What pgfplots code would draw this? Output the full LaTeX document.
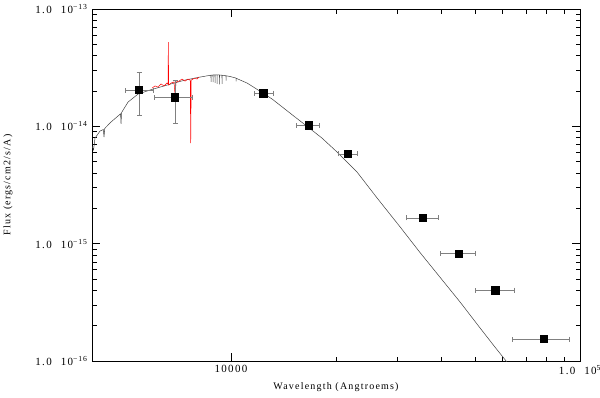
\documentclass[border=0pt]{standalone}
\usepackage{pgfplots}
\pgfplotsset{compat=1.18}
\usepackage{fontspec}
\setmainfont{Liberation Serif}[LetterSpace=12]

\begin{document}
\begin{tikzpicture}
% page = 600 x 397, axis box 488 x 352 placed at the origin
\path[use as bounding box] (-92pt,-36pt) rectangle (508pt,361pt);
\begin{axis}[
    scale only axis, width=488pt, height=352pt,
    xmode=log, ymode=log,
    xmin=4000, xmax=100000, ymin=1e-16, ymax=1e-13,
    tick pos=both, tick align=inside,
    major tick length=8pt, minor tick length=4.5pt,
    every tick/.style={black, line width=0.6pt},
    axis line style={line width=0.8pt},
    xtick={10000,100000},
    xticklabels={10000, 1.0\hspace{9pt}10\textsuperscript{5}},
    ytick={1e-16,1e-15,1e-14,1e-13},
    yticklabels={1.0\hspace{9pt}10\textsuperscript{−16}, 1.0\hspace{9pt}10\textsuperscript{−15},
                 1.0\hspace{9pt}10\textsuperscript{−14}, 1.0\hspace{9pt}10\textsuperscript{−13}},
    tick label style={font=\fontsize{11}{13}\selectfont},
    xticklabel style={yshift=-1pt},
    yticklabel style={xshift=-1pt},
    xlabel={Wavelength (Angtroems)},
    ylabel={Flux (ergs/cm2/s/A)},
    xlabel style={font=\fontsize{12}{14}\selectfont},
    ylabel style={font=\fontsize{11.5}{13}\selectfont},
    every axis x label/.style={at={(rel axis cs:0.5,0)}, yshift=-26pt, anchor=center},
    every axis y label/.style={at={(rel axis cs:0,0.5)}, xshift=-84pt, rotate=90, anchor=center},
]
% model spectrum
\addplot[black!75, line width=0.5pt] coordinates {
    (4000,6.80e-15) (4040,6.3e-15) (4080,7.94e-15) (4217,9.12e-15) (4310,9.4e-15)
    (4330,8.1e-15) (4350,9.6e-15) (4534,1.089e-14) (4748,1.225e-14) (4830,1.28e-14)
    (4844,1.05e-14) (4860,1.31e-14) (5073,1.611e-14) (5419,1.884e-14) (5865,2.04e-14)
    (6266,2.16e-14) (6738,2.30e-14) (7389,2.48e-14) (8155,2.63e-14) (8700,2.72e-14)
    (8767,2.73e-14) (8770,2.40e-14) (8773,2.73e-14) (8884,2.74e-14) (8887,2.38e-14)
    (8890,2.74e-14) (9002,2.74e-14) (9005,2.35e-14) (9008,2.74e-14) (9122,2.74e-14)
    (9125,2.30e-14) (9128,2.74e-14) (9273,2.74e-14) (9276,2.28e-14) (9279,2.74e-14)
    (9427,2.73e-14) (9430,2.30e-14) (9433,2.72e-14) (9493,2.72e-14) (9679,2.70e-14)
    (9683,2.45e-14) (9687,2.70e-14) (9942,2.66e-14) (10340,2.58e-14) (10344,2.42e-14)
    (10348,2.57e-14) (11122,2.34e-14) (11727,2.12e-14) (12360,1.92e-14) (13120,1.71e-14)
    (13920,1.49e-14) (15270,1.20e-14) (16630,9.86e-15) (18240,7.94e-15) (20140,6.04e-15)
    (22990,4.07e-15) (26230,2.45e-15) (30520,1.39e-15) (34830,8.39e-16) (40540,4.80e-16)
    (45350,3.18e-16) (51740,1.91e-16) (57120,1.31e-16) (61430,1.0e-16) (63070,8.96e-17)
};
% observed optical spectrum
\addplot[red, line width=0.5pt] coordinates {
    (5943,2.12e-14) (6062,2.21e-14) (6183,2.16e-14) (6307,2.30e-14) (6433,2.21e-14)
    (6561,2.34e-14) (6605,2.30e-14) (6618,5.23e-14) (6631,2.25e-14) (6738,2.34e-14)
    (6871,2.39e-14) (6917,1.85e-14) (6963,2.39e-14) (7102,2.43e-14) (7244,2.53e-14)
    (7389,2.43e-14) (7537,2.53e-14) (7647,2.48e-14) (7672,7.21e-15) (7697,2.48e-14)
    (7790,2.53e-14) (7893,2.58e-14) (7996,2.53e-14) (8102,2.63e-14)
};
% photometry with error bars
\addplot[only marks, mark=square*, mark size=3.65pt, black,
    error bars/.cd, x dir=both, x explicit, y dir=both, y explicit,
    error bar style={gray, line width=0.5pt},
    error mark options={gray, mark size=2.5pt, line width=0.5pt, rotate=90}]
coordinates {
    (5455,2.04e-14) += (528,0.86e-14) -= (482,0.79e-14)
    (6917,1.77e-14) += (857,0.68e-14) -= (895,0.70e-14)
    (12360,1.92e-14) += (870,0) -= (710,0)
    (16670,1.02e-14) += (1250,0) -= (1300,0)
    (21610,5.84e-15) += (1370,0) -= (1300,0)
    (35450,1.66e-15) += (3910,0) -= (3620,0)
    (44830,8.26e-16) += (5210,0) -= (5020,0)
    (57100,4.02e-16) += (7640,0) -= (7060,0)
    (78560,1.54e-16) += (14320,0) -= (14550,0)
};
\end{axis}
\end{tikzpicture}
\end{document}
